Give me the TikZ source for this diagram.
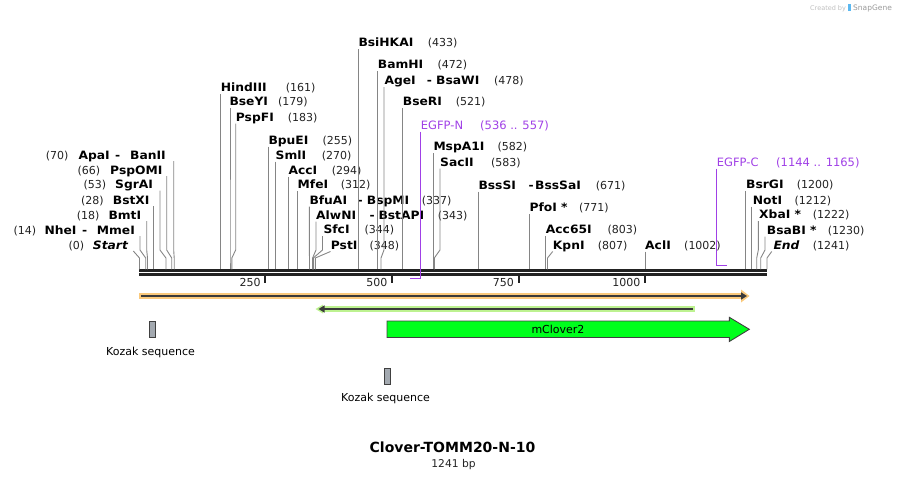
\documentclass[tikz,border=0pt]{standalone}
\usepackage{fontspec}
\setmainfont{DejaVu Sans}
\usetikzlibrary{arrows.meta}
\definecolor{barc}{HTML}{222222}
\definecolor{numc}{HTML}{222222}
\definecolor{cutc}{HTML}{858585}
\definecolor{primc}{HTML}{A040E6}
\definecolor{orangeband}{HTML}{FAC97C}
\definecolor{greenband}{HTML}{BDF290}
\definecolor{darkline}{HTML}{3A3A3A}
\definecolor{clover}{HTML}{00FF1C}
\definecolor{kozfill}{HTML}{A3A9B0}
\definecolor{featedge}{HTML}{404040}
\definecolor{sgblue}{HTML}{5BB8F0}
\newcommand\bx[1]{\scalebox{1.07}[1]{#1}}
\tikzset{
  nm/.style={font=\fontsize{11.5}{13}\selectfont\bfseries, inner sep=0pt, text=black},
  num/.style={font=\fontsize{11}{13}\selectfont, inner sep=0pt, text=numc},
  cut/.style={draw=cutc, line width=0.9pt},
  bar/.style={draw=barc, line width=2.6pt},
  tickmark/.style={draw=barc, line width=2pt},
  ticklab/.style={font=\fontsize{11}{13}\selectfont, inner sep=0pt, text=numc},
  prim/.style={draw=primc, line width=1.5pt},
  plab/.style={font=\fontsize{11.5}{13}\selectfont, inner sep=0pt, text=primc},
  featlab/.style={font=\fontsize{11}{13}\selectfont, inner sep=0pt, text=black},
  kozbox/.style={draw=featedge, fill=kozfill, line width=0.9pt},
}
% right-type site: id, name x, y, name, num x, num, line x, site x
\newcommand\rsite[8]{%
  \node[nm, anchor=base west] (#1) at (#2,#3+4) {\bx{#4}};
  \node[num, anchor=base west] (#1n) at (#5,#3+4) {#6};
  \coordinate (#1t) at (#7,#3+6.5);
  \coordinate (#1b) at ({#7},{max(#3+6.5,250)});
  \coordinate (#1k) at (#8,258);
  \coordinate (#1s) at (#8,269.3);
  \draw[cut] (#1t) -- (#1b) -- (#1k) -- (#1s);
}
% left-type site: id, num x, num, name x, name, y, line x, site x
\newcommand\lsite[8]{%
  \node[num, anchor=base west] (#1n) at (#2,#6+4) {#3};
  \node[nm, anchor=base west] (#1) at (#4,#6+4) {\bx{#5}};
  \coordinate (#1t) at (#7,#6+6);
  \coordinate (#1b) at ({#7},{max(#6+6,250)});
  \coordinate (#1k) at (#8,258);
  \coordinate (#1s) at (#8,269.3);
  \draw[cut] (#1t) -- (#1b) -- (#1k) -- (#1s);
}
\newcommand\xname[4]{\node[nm, anchor=base west] (#1) at (#2,#3+4) {\bx{#4}};}
\newcommand\tickat[3]{%
  \coordinate (#1a) at (#2,275.5);
  \coordinate (#1b) at (#2,283);
  \draw[tickmark] (#1a) -- (#1b);
  \node[ticklab, anchor=base east] (#1l) at (#2-4.5,286.5) {#3};
}
\begin{document}
\begin{tikzpicture}[x=1pt,y=-1pt]
\useasboundingbox (0,0) rectangle (907,479);

% watermark
\node[font=\fontsize{6.5}{8}\selectfont, text=black!25, inner sep=0pt, anchor=base west] (cby) at (810,10) {Created by};
\fill[sgblue] (847.5,3.5) rectangle (850.5,11);
\node[font=\fontsize{7.5}{8}\selectfont, text=black!40, inner sep=0pt, anchor=base west] (sg) at (853,10.3) {SnapGene};

% sequence bar
\coordinate (b1l) at (139,270.3); \coordinate (b1r) at (767,270.3);
\coordinate (b2l) at (139,274.3); \coordinate (b2r) at (767,274.3);
\draw[bar] (b1l) -- (b1r);
\draw[bar] (b2l) -- (b2r);

\tickat{t250}{265.3}{250}
\tickat{t500}{392}{500}
\tickat{t750}{518.5}{750}
\tickat{t1000}{645}{1000}

% left-side labels
\lsite{apa}{45.7}{(70)}{78.3}{ApaI}{155}{173.7}{174.2}
\xname{apad}{115}{155}{-}
\xname{ban}{130}{155}{BanII}
\lsite{psp}{77.3}{(66)}{110}{PspOMI}{170}{166.7}{171.7}
\lsite{sgr}{83.3}{(53)}{115}{SgrAI}{184.5}{160}{166}
\lsite{bstx}{81}{(28)}{112.7}{BstXI}{200}{153.3}{153.3}
\lsite{bmt}{76.7}{(18)}{108.3}{BmtI}{215}{146.7}{147.5}
\lsite{nhe}{13.3}{(14)}{44.3}{NheI}{230}{140}{145.7}
\xname{nhed}{82}{230}{-}
\xname{mme}{96.7}{230}{MmeI}
\lsite{start}{68.3}{(0)}{92.7}{\itshape Start}{245}{133.3}{139.5}

% middle labels
\rsite{hind}{220.7}{87.3}{HindIII}{285.7}{(161)}{220.7}{220.7}
\rsite{bsey}{229.3}{101.7}{BseYI}{278}{(179)}{230}{230}
\rsite{pspf}{235.7}{117}{PspFI}{287.7}{(183)}{235.7}{231.8}
\rsite{bpue}{268.3}{140}{BpuEI}{322.5}{(255)}{268.3}{268.3}
\rsite{sml}{275.5}{155}{SmlI}{321.7}{(270)}{275.7}{275.7}
\rsite{acc}{288.3}{170}{AccI}{331.7}{(294)}{288.3}{288.3}
\rsite{mfe}{297.5}{184.5}{MfeI}{340.7}{(312)}{297.3}{297.3}
\rsite{bfua}{309.3}{200}{BfuAI}{421.7}{(337)}{309.3}{309.5}
\xname{bfuad}{357.3}{200}{-}
\xname{bspm}{366.7}{200}{BspMI}
\rsite{alwn}{316}{215}{AlwNI}{437.7}{(343)}{316}{312.6}
\xname{alwnd}{369.3}{215}{-}
\xname{bstap}{378.3}{215}{BstAPI}
\rsite{sfc}{323.3}{229.5}{SfcI}{364.3}{(344)}{322.5}{313.3}
\rsite{pst}{330.7}{245}{PstI}{369.3}{(348)}{330.5}{315.3}
\rsite{bsih}{358.3}{42.7}{BsiHKAI}{427.7}{(433)}{358.3}{358.3}
\rsite{bamh}{377.7}{64.5}{BamHI}{437.3}{(472)}{377.7}{377.7}
\rsite{age}{384.3}{80.5}{AgeI}{494}{(478)}{384}{381}
\xname{aged}{426.7}{80.5}{-}
\xname{bsaw}{436}{80.5}{BsaWI}
\rsite{bser}{402.7}{101.7}{BseRI}{455.7}{(521)}{402.7}{402.7}
\rsite{mspa}{433.3}{146.7}{MspA1I}{497.3}{(582)}{433.3}{433.3}
\rsite{sac}{440}{162}{SacII}{491}{(583)}{440}{434.3}
\rsite{bsss}{478.3}{185}{BssSI}{595.7}{(671)}{478.3}{478.3}
\xname{bsssd}{528.3}{185}{-}
\xname{bsssa}{535}{185}{BssSaI}
\rsite{pfo}{529.3}{207.5}{PfoI *}{579}{(771)}{529.3}{529.3}
\rsite{acc65}{545.7}{229.5}{Acc65I}{607.3}{(803)}{545.7}{545.7}
\rsite{kpn}{552.7}{245}{KpnI}{597.7}{(807)}{552.7}{547.5}
\rsite{acl}{645}{245}{AclI}{684}{(1002)}{645.5}{645.5}

% right labels
\rsite{bsrg}{746}{184.3}{BsrGI}{796.7}{(1200)}{745.5}{745.5}
\rsite{not}{752.7}{200}{NotI}{794.3}{(1212)}{751.7}{751.7}
\rsite{xba}{759}{214.5}{XbaI *}{812.7}{(1222)}{758.3}{756.7}
\rsite{bsab}{766.7}{230}{BsaBI *}{827.7}{(1230)}{765}{760.7}
\rsite{endl}{773.3}{245}{\itshape End}{812.7}{(1241)}{771.7}{767}

% primers
\node[plab, anchor=base west] (egfpn) at (420.7,129) {EGFP-N};
\node[plab, anchor=base west] (egfpnn) at (480,129) {(536 .. 557)};
\coordinate (egfpnt) at (420.7,131.5);
\coordinate (egfpne) at (410,278.5);
\draw[prim] (egfpnt) |- (egfpne);
\node[plab, anchor=base west] (egfpc) at (716.7,166.3) {EGFP-C};
\node[plab, anchor=base west] (egfpcn) at (776,166.3) {(1144 .. 1165)};
\coordinate (egfpct) at (716.7,168.5);
\coordinate (egfpce) at (727,265.3);
\draw[prim] (egfpct) |- (egfpce);

% orange full-length arrow
\draw[orangeband, line width=6pt] (139,296) -- (742,296);
\fill[orangeband] (741,289.5) -- (749.5,296) -- (741,302.5) -- cycle;
\draw[darkline, line width=2pt, -{Triangle[length=6pt,width=7pt]}] (141,296) -- (747,296);

% green reverse arrow
\draw[greenband, line width=5.7pt] (322,309) -- (695,309);
\fill[greenband] (323,304.5) -- (315.5,309) -- (323,313.5) -- cycle;
\draw[darkline, line width=2pt, -{Triangle[length=6pt,width=7pt]}] (692.7,309) -- (318.5,309);

% mClover2
\draw[featedge, fill=clover, line width=0.9pt]
  (387,321) -- (729.3,321) -- (729.3,317.3) -- (749.3,329.3) -- (729.3,341.5) -- (729.3,337.5) -- (387,337.5) -- cycle;
\node[featlab] (mclover) at (558,329.3) {mClover2};

% Kozak sequences
\draw[kozbox] (149,321) rectangle (155,337.7);
\node[featlab, anchor=base] (koz1) at (150.5,355) {Kozak sequence};
\draw[kozbox] (384,368.3) rectangle (390,384.3);
\node[featlab, anchor=base] (koz2) at (385.5,401) {Kozak sequence};

% title
\node[font=\fontsize{14}{15}\selectfont\bfseries, inner sep=0pt, anchor=base] (title) at (452.5,452.8) {Clover-TOMM20-N-10};
\node[font=\fontsize{10.7}{12}\selectfont, inner sep=0pt, anchor=base, text=numc] (bp) at (453.5,467.2) {1241 bp};
\end{tikzpicture}
\end{document}
